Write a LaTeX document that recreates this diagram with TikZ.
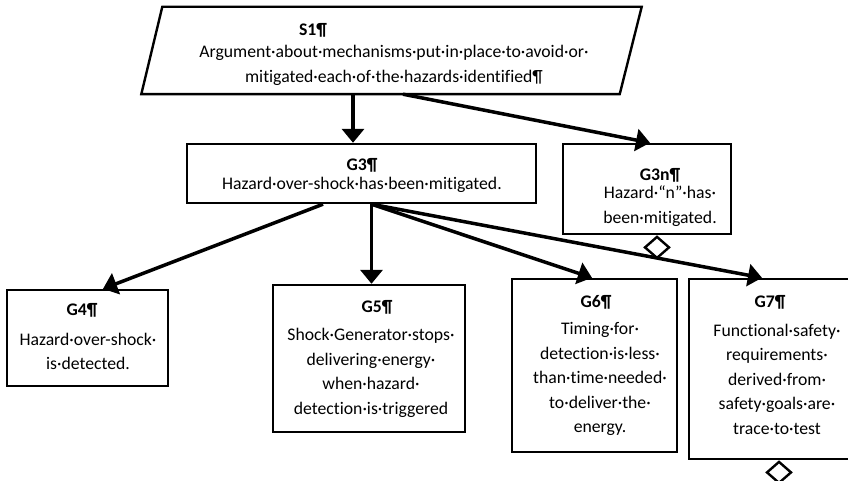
\documentclass[tikz,border=0pt]{standalone}
\usepackage{fontspec}
\setmainfont{Carlito}[Ligatures={NoCommon}]
\usetikzlibrary{arrows.meta,shapes.geometric}
\begin{document}
\begin{tikzpicture}[x=1pt,y=-1pt,
  frame/.style={inner sep=0pt},
  box/.style={draw,line width=2.4pt,inner sep=0pt},
  body/.style={font=\fontsize{17.7}{24.5}\selectfont,align=center,inner sep=0pt},
  ttl/.style={font=\fontsize{17.7}{24.5}\selectfont\bfseries,inner sep=0pt},
  link/.style={line width=3.5pt,-{Triangle[length=14pt,width=22pt]}},
  undev/.style={draw,diamond,line width=2.4pt,minimum width=25pt,minimum height=22pt,inner sep=0pt}
]
\useasboundingbox (0,0) rectangle (848,481);
\clip (0,0) rectangle (848,481);

% strategy node: a parallelogram drawn over an invisible frame
\node[frame,minimum width=500pt,minimum height=87pt] (s1) at (391.5,50.5) {};
\draw[line width=2.4pt,line join=miter]
  (s1.south west) -- ([xshift=21pt]s1.north west) -- (s1.north east)
  -- ([xshift=-22pt]s1.south east) -- cycle;

% goal boxes
\node[box,minimum width=349pt,minimum height=59pt]  (g3)  at (361.5,173.5) {};
\node[box,minimum width=168pt,minimum height=90pt]  (g3n) at (647,189) {};
\node[box,minimum width=161pt,minimum height=96pt]  (g4)  at (87.5,338) {};
\node[box,minimum width=192pt,minimum height=147pt] (g5)  at (369,358.5) {};
\node[box,minimum width=165pt,minimum height=173pt] (g6)  at (594.5,365.5) {};
\node[box,minimum width=173pt,minimum height=180pt] (g7)  at (775.5,369) {};

% undeveloped markers
\node[undev,anchor=north] (g3nd) at ([xshift=10pt]g3n.south) {};
\node[undev,anchor=north] (g7d)  at ([xshift=3.5pt]g7.south) {};

% texts
\node[ttl]  (s1t) at (313,30) {S1¶};
\node[body] (s1b) at (394,65.5) {Argument·about·mechanisms·put·in·place·to·avoid·or·\\mitigated·each·of·the·hazards·identified¶};
\node[ttl]  (g3t) at (362,165) {G3¶};
\node[body] (g3b) at (362,185) {Hazard·over-shock·has·been·mitigated.};
\node[ttl]  (g3nt) at (660,175) {G3n¶};
\node[body] (g3nb) at (660,206) {Hazard·“n”·has·\\been·mitigated.};
\node[ttl]  (g4t) at (82,310) {G4¶};
\node[body] (g4b) at (88,351.5) {Hazard·over-shock·\\is·detected.};
\node[ttl]  (g5t) at (377,307) {G5¶};
\node[body] (g5b) at (371,373) {Shock·Generator·stops·\\delivering·energy·\\when·hazard·\\detection·is·triggered};
\node[ttl]  (g6t) at (596,302) {G6¶};
\node[body] (g6b) at (600,379) {Timing·for·\\detection·is·less·\\than·time·needed·\\to·deliver·the·\\energy.};
\node[ttl]  (g7t) at (770,302) {G7¶};
\node[body] (g7b) at (777,379) {Functional·safety·\\requirements·\\derived·from·\\safety·goals·are·\\trace·to·test};

% connectors
\draw[link] ([xshift=-38.5pt]s1.south) -- ([xshift=-8.5pt]g3.north);
\draw[link] ([xshift=11.5pt]s1.south) -- ([xshift=3pt]g3n.north);
\draw[link] ([xshift=-38.5pt]g3.south) -- ([xshift=15.5pt]g4.north);
\draw[link] ([xshift=10pt]g3.south) -- ([xshift=2.5pt]g5.north);
\draw[link] ([xshift=10pt]g3.south) -- ([xshift=-2.5pt]g6.north);
\draw[link] ([xshift=10pt]g3.south) -- ([xshift=-13.5pt]g7.north);
\end{tikzpicture}
\end{document}
